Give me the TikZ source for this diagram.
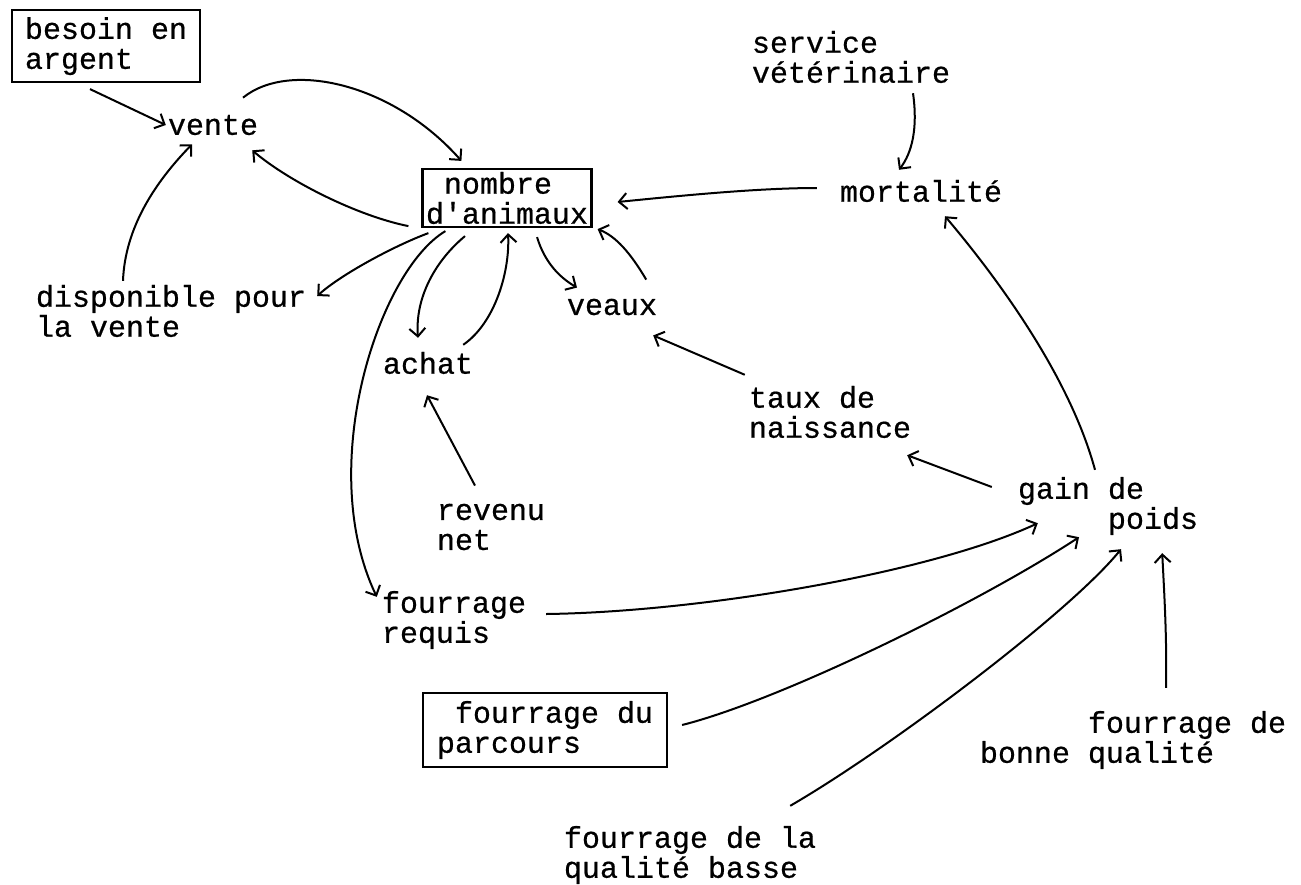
\documentclass[tikz,border=0pt]{standalone}
\usepackage{fontspec}
\setmonofont[FakeBold=0.6]{Liberation Mono}
\usetikzlibrary{arrows.meta}

\begin{document}
\begin{tikzpicture}[x=1pt, y=-1pt,
    var/.style={font=\ttfamily\fontsize{30}{30}\selectfont, inner sep=2pt, align=left},
    stock/.style={var, draw, line width=2.2pt},
    link/.style={line width=2pt, -{Straight Barb[length=8pt, width=16pt]}}]
    \useasboundingbox (0,0) rectangle (1301,884);

    \node [stock, minimum width=188pt, minimum height=72pt, text depth=6pt] (besoin) at (106,46) {besoin en\\argent};
    \node [var] (vente) at (213,125) {vente};
    \node [stock, minimum width=169pt, minimum height=58pt] (nombre) at (507,198) {~nombre\\d'animaux};
    \node [var] (service) at (851,57) {service\\vétérinaire};
    \node [var] (mortalite) at (921,191) {mortalité};
    \node [var] (dispo) at (171,311) {disponible pour\\la vente};
    \node [var] (achat) at (428,363) {achat};
    \node [var] (veaux) at (612,307) {veaux};
    \node [var] (taux) at (830,412) {taux de\\naissance};
    \node [var] (gain) at (1108,506) {gain de\\\phantom{gain }poids};
    \node [var] (revenu) at (491,527) {revenu\\net};
    \node [var] (requis) at (454,620) {fourrage\\requis};
    \node [stock, minimum width=244pt, minimum height=74pt] (parcours) at (545,730) {~fourrage du\\parcours};
    \node [var] (bonne) at (1133,740) {\phantom{bonne }fourrage de\\bonne qualité};
    \node [var] (basse) at (690,855) {fourrage de la\\qualité basse};

    \draw [link] ([shift={(-16,6)}]besoin.south) -- (vente.west);
    \draw [link] ([shift={(30,-15)}]vente.north) .. controls +(47,-38) and +(-68,-77) .. ([shift={(40,-7)}]nombre.north west);
    \draw [link] ([shift={(-13,-2)}]nombre.south west) .. controls +(-50,-10) and +(38,32) .. ([shift={(-8,13)}]vente.south east);
    \draw [link] ([shift={(7,5)}]nombre.south west) .. controls +(-35,13) and +(23,-21) .. ([shift={(9,-15)}]dispo.east);
    \draw [link] ([shift={(-48,-2)}]dispo.north) .. controls +(2,-53) and +(-37,38) .. ([shift={(-21,7)}]vente.south);
    \draw [link] ([shift={(24,3)}]nombre.south west) .. controls +(-67,40) and +(-62,-130) .. ([shift={(-3,8)}]requis.north west);
    \draw [link] ([shift={(-42,8)}]nombre.south) .. controls +(-30,25) and +(-3,-40) .. ([shift={(-10,-12)}]achat.north);
    \draw [link] ([shift={(-12,-5)}]achat.north east) .. controls +(32,-22) and +(2,38) .. ([shift={(1,5)}]nombre.south);
    \draw [link] ([shift={(30,9)}]nombre.south) .. controls +(8,26) and +(-17,-10) .. ([shift={(-35,-9)}]veaux.north);
    \draw [link] ([shift={(-13,-17)}]veaux.north east) .. controls +(-16,-27) and +(18,7) .. ([shift={(5,1)}]nombre.south east);
    \draw [link] ([shift={(-2,-9)}]taux.north west) -- ([shift={(-6,18)}]veaux.south east);
    \draw [link] ([shift={(-16,-16)}]revenu.north) -- ([shift={(-1,19)}]achat.south);
    \draw [link] ([shift={(-21,-3)}]mortalite.west) .. controls +(-60,0) and +(60,-6) .. ([shift={(25,4)}]nombre.east);
    \draw [link] ([shift={(62,8)}]service.south) .. controls +(5,35) and +(13,-17) .. ([shift={(-22,-8)}]mortalite.north);
    \draw [link] ([shift={(-24,-19)}]gain.west) -- ([shift={(-6,15)}]taux.south east);
    \draw [link] ([shift={(-13,-5)}]gain.north) .. controls +(-25,-92) and +(55,65) .. ([shift={(24,12)}]mortalite.south);
    \draw [link] ([shift={(18,-6)}]requis.east) .. controls +(154,-2) and +(-108,50) .. ([shift={(22,-14)}]gain.south west);
    \draw [link] ([shift={(14,-5)}]parcours.east) .. controls +(99,-25) and +(-99,65) .. ([shift={(-29,0)}]gain.south);
    \draw [link] ([shift={(-28,-18)}]basse.north east) .. controls +(100,-58) and +(-51,63) .. ([shift={(13,12)}]gain.south);
    \draw [link] ([shift={(33,-21)}]bonne.north) .. controls +(1,-50) and +(2,40) .. ([shift={(-38,16)}]gain.south east);
\end{tikzpicture}
\end{document}
